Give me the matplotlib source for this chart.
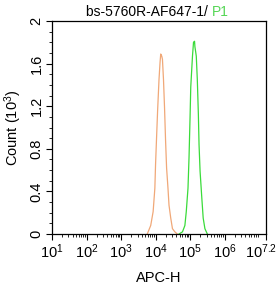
import matplotlib
matplotlib.use("Agg")
import matplotlib.pyplot as plt
import matplotlib.transforms as mtransforms
from matplotlib.ticker import FixedLocator, NullFormatter

plt.rcParams['font.family'] = ['Liberation Sans', 'DejaVu Sans']
plt.rcParams['mathtext.fontset'] = 'custom'
plt.rcParams['mathtext.rm'] = 'Liberation Sans'
plt.rcParams['mathtext.it'] = 'Liberation Sans'

# Orange histogram (log10 APC-H, count in 10^3)
orange_logx = [3.76, 3.86, 3.93, 3.98, 4.00, 4.03, 4.06, 4.10, 4.13, 4.15, 4.18, 4.20,
               4.23, 4.26, 4.29, 4.32, 4.36, 4.39, 4.44, 4.49, 4.56, 4.63]
orange_count = [0.0, 0.08, 0.21, 0.43, 0.65, 0.91, 1.16, 1.45, 1.61, 1.69, 1.67, 1.64,
                1.45, 1.19, 0.88, 0.62, 0.43, 0.27, 0.15, 0.05, 0.02, 0.0]
# Green histogram
green_logx = [4.68, 4.78, 4.85, 4.89, 4.94, 4.97, 5.00, 5.02, 5.07, 5.10, 5.13, 5.14,
              5.18, 5.21, 5.24, 5.26, 5.29, 5.34, 5.38, 5.43, 5.50]
green_count = [0.0, 0.02, 0.08, 0.21, 0.43, 0.72, 1.10, 1.38, 1.67, 1.80, 1.81, 1.76,
               1.67, 1.45, 1.13, 0.84, 0.59, 0.34, 0.15, 0.05, 0.0]

x_ticks = [1, 2, 3, 4, 5, 6, 7.2]
x_ticklabels = ['$10^{1}$', '$10^{2}$', '$10^{3}$', '$10^{4}$', '$10^{5}$', '$10^{6}$', '$10^{7.2}$']
y_ticks = [0, 0.4, 0.8, 1.2, 1.6, 2]
y_ticklabels = ['0', '0.4', '0.8', '1.2', '1.6', '2']

fig = plt.figure(figsize=(2.8, 2.86), dpi=100)
ax = fig.add_axes([52/280, 52/286, 214/280, 213/286])

ax.plot([10**v for v in orange_logx], orange_count, color='#F0A878', lw=0.9)
ax.plot([10**v for v in green_logx], green_count, color='#3ADB3A', lw=0.9)

ax.set_xscale('log')
ax.set_xlim(10**1, 10**7.2)
ax.set_ylim(0, 2)
ax.xaxis.set_major_locator(FixedLocator([10**v for v in x_ticks]))
ax.set_xticklabels(x_ticklabels)
minors = [m * 10**d for d in range(1, 8) for m in range(2, 10) if m * 10**d < 10**7.2]
ax.xaxis.set_minor_locator(FixedLocator(minors))
ax.xaxis.set_minor_formatter(NullFormatter())
ax.set_yticks(y_ticks)
ax.set_yticklabels(y_ticklabels, rotation=90, va='center')
ax.set_yticks([i / 10 for i in range(0, 21)], minor=True)

ax.tick_params(axis='both', which='major', length=4, width=0.8, labelsize=10.5, pad=2)
ax.tick_params(axis='both', which='minor', length=2, width=0.6)
for s in ax.spines.values():
    s.set_linewidth(0.9)

# shift the last x tick label slightly left so it fits inside the figure
last = ax.get_xticklabels()[-1]
last.set_transform(last.get_transform() + mtransforms.ScaledTranslation(-5/100, 0, fig.dpi_scale_trans))

ax.set_xlabel('APC-H', fontsize=10.5, labelpad=7)
ax.set_ylabel('Count (10$^{3}$)', fontsize=10.5, labelpad=4)

fig.text(0.757, 0.957, 'bs-5760R-AF647-1/ ', ha='right', va='center', fontsize=10, color='black')
fig.text(0.757, 0.957, 'P1', ha='left', va='center', fontsize=10, color='#55D655')

fig.savefig('out.png', dpi=100)
